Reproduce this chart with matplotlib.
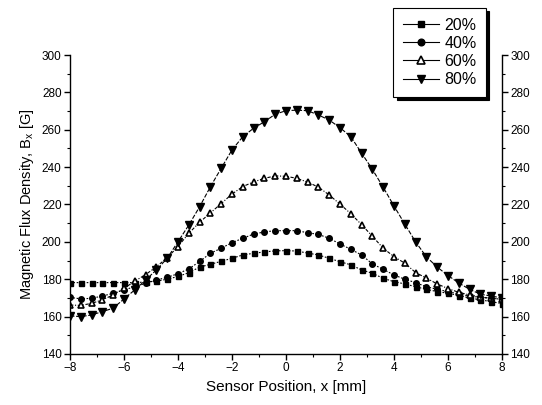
import numpy as np
import matplotlib
matplotlib.use("Agg")
import matplotlib.pyplot as plt

plt.rcParams['font.family'] = ['Liberation Sans', 'DejaVu Sans']
plt.rcParams['mathtext.fontset'] = 'custom'
plt.rcParams['mathtext.rm'] = 'Liberation Sans'
plt.rcParams['mathtext.it'] = 'Liberation Sans'

# sensor positions, mm (step 0.4)
x_mm = np.round(np.arange(-8, 8.01, 0.4), 1)

b_20 = [178.2, 178.2, 178.2, 178.2, 178.2, 178.2, 178.2, 178.5, 179.0, 180.0,
        181.5, 183.5, 186.5, 188.0, 189.6, 191.2, 193.0, 193.9, 194.6, 195.2,
        195.3, 195.1, 194.0, 193.0, 191.2, 189.4, 187.7, 185.0, 183.2, 180.5,
        178.7, 177.5, 176.0, 174.6, 173.4, 172.5, 171.3, 170.0, 169.0, 168.0,
        167.0]
b_40 = [170.3, 169.5, 169.8, 171.0, 172.5, 174.3, 176.0, 177.8, 179.6, 181.0,
        183.0, 185.5, 189.5, 193.9, 196.6, 199.6, 201.9, 204.2, 205.3, 206.0,
        206.0, 206.0, 204.9, 204.0, 201.9, 198.9, 196.0, 193.0, 188.2, 185.3,
        182.3, 180.0, 178.2, 176.0, 174.6, 173.4, 172.1, 171.0, 170.3, 169.8,
        169.3]
b_60 = [166.2, 166.0, 167.1, 169.0, 171.6, 175.1, 179.0, 182.5, 186.7, 191.5,
        197.5, 204.6, 210.5, 215.5, 220.5, 225.6, 229.6, 232.1, 234.0, 235.3,
        235.1, 234.0, 232.0, 229.3, 225.1, 220.2, 215.1, 209.2, 203.0, 196.6,
        192.1, 188.6, 183.6, 180.6, 177.5, 175.0, 173.0, 171.6, 170.5, 169.8,
        169.3]
b_80 = [160.4, 160.0, 160.9, 162.7, 164.5, 169.5, 174.3, 179.6, 185.0, 191.2,
        200.1, 209.0, 218.8, 229.5, 239.4, 249.2, 256.3, 260.8, 264.3, 268.3,
        270.2, 270.5, 270.2, 267.9, 265.2, 261.1, 256.3, 247.5, 238.8, 229.2,
        219.2, 209.5, 200.0, 192.0, 186.5, 182.0, 178.0, 174.6, 172.0, 171.0,
        170.0]

labels = ['20%', '40%', '60%', '80%']

fig = plt.figure(figsize=(5.42, 4.05), dpi=100)
ax = fig.add_axes([70 / 542, 1 - 354 / 405, 432 / 542, 299 / 405])

ax.plot(x_mm, b_20, color='black', lw=0.8, ls=(0, (1.5, 1.5)), marker='s',
        ms=3.6, label=labels[0])
ax.plot(x_mm, b_40, color='black', lw=0.8, ls=(0, (1.5, 1.5)), marker='o',
        ms=4.0, label=labels[1])
ax.plot(x_mm, b_60, color='black', lw=0.8, ls=(0, (3, 1.5, 1, 1.5)), marker='^',
        ms=4.6, mfc='white', mec='black', mew=1.2, label=labels[2])
ax.plot(x_mm, b_80, color='black', lw=0.8, ls=(0, (4, 1.5)), marker='v',
        ms=5.2, label=labels[3])

ax.set_xlim(-8, 8)
ax.set_ylim(140, 300)
ax.set_xticks(np.arange(-8, 9, 2))
ax.set_xticks(np.arange(-7, 8, 2), minor=True)
ax.set_yticks(np.arange(140, 301, 20))
ax.set_yticks(np.arange(150, 300, 20), minor=True)

ax.spines['top'].set_visible(False)
for s in ['left', 'right', 'bottom']:
    ax.spines[s].set_linewidth(1.0)

ax.tick_params(axis='both', which='major', direction='out', length=4,
               width=1, labelsize=8.5, right=True, labelright=True, pad=2)
ax.tick_params(axis='both', which='minor', direction='out', length=2.5,
               width=0.8, right=True)

ax.set_xlabel('Sensor Position, x [mm]', fontsize=11)
ax.set_ylabel(r'Magnetic Flux Density, B$_{\rm x}$ [G]', fontsize=10.5)

leg = ax.legend(loc='upper right', bbox_to_anchor=(486 / 542, 1 - 8 / 405),
                bbox_transform=fig.transFigure, fontsize=11.5, frameon=True,
                fancybox=False, edgecolor='black', handlelength=2.3,
                borderpad=0.6, labelspacing=0.2, handletextpad=0.3,
                borderaxespad=0, markerscale=1.2,
                shadow={'ox': 2.5, 'oy': -2.5, 'facecolor': 'black',
                        'edgecolor': 'black', 'alpha': 1})
leg.get_frame().set_linewidth(0.8)
leg.set_zorder(5)
for h in leg.get_lines():
    h.set_linestyle('-')

fig.savefig('out.png', dpi=100)
